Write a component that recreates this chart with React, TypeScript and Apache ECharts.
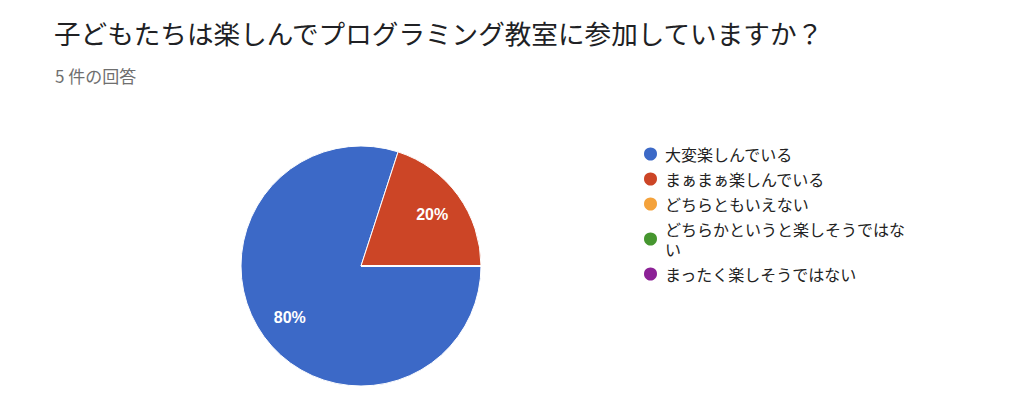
import React, { useEffect, useRef } from 'react'
import * as echarts from 'echarts'

const titleText = '子どもたちは楽しんでプログラミング教室に参加していますか？'
const subtitleText = '5 件の回答'

const answers = [
  '大変楽しんでいる',
  'まぁまぁ楽しんでいる',
  'どちらともいえない',
  'どちらかというと楽しそうではない',
  'まったく楽しそうではない'
]
const counts = [4, 1, 0, 0, 0]
const sliceColors = ['#3c69c7', '#cc4526', '#f4a23b', '#46962f', '#8c2196']

const CJK = '"Noto Sans CJK JP", "Noto Sans", sans-serif'

const App: React.FC = () => {
  const chartRef = useRef<HTMLDivElement>(null)

  useEffect(() => {
    if (!chartRef.current) return
    const chart = echarts.init(chartRef.current, undefined, { renderer: 'svg' })

    const data = answers.map((name, i) => ({ name, value: counts[i] }))

    const option: echarts.EChartsOption = {
      animation: false,
      backgroundColor: '#ffffff',
      color: sliceColors,
      title: [
        {
          text: titleText,
          left: 54,
          top: 19,
          padding: 0,
          textStyle: { fontFamily: CJK, fontSize: 26.6, fontWeight: 'normal', color: '#202124' }
        },
        {
          text: subtitleText,
          left: 55,
          top: 67,
          padding: 0,
          textStyle: { fontFamily: CJK, fontSize: 17, fontWeight: 'normal', color: '#6f6f6f' }
        }
      ],
      legend: {
        orient: 'vertical',
        left: 642,
        top: 144,
        padding: 0,
        itemGap: 5,
        itemWidth: 19,
        itemHeight: 15,
        icon: 'circle',
        selectedMode: false,
        data: answers,
        textStyle: {
          fontFamily: CJK,
          fontSize: 16,
          lineHeight: 20,
          color: '#222222',
          width: 248,
          overflow: 'breakAll'
        }
      },
      series: [
        {
          type: 'pie',
          center: [361, 266],
          radius: [0, 120],
          startAngle: 0,
          clockwise: true,
          silent: true,
          label: { show: false },
          labelLine: { show: false },
          itemStyle: { borderColor: '#ffffff', borderWidth: 1 },
          data
        },
        {
          type: 'pie',
          center: [361, 266],
          radius: [50, 120],
          startAngle: 0,
          clockwise: true,
          silent: true,
          itemStyle: { color: 'transparent' },
          labelLine: { show: false },
          label: {
            show: true,
            position: 'inside',
            color: '#ffffff',
            fontFamily: 'Liberation Sans, Arial, sans-serif',
            fontSize: 16,
            fontWeight: 'bold',
            formatter: (p: any) => (p.value > 0 ? `${Math.round(p.percent)}%` : '')
          },
          data
        }
      ]
    }

    chart.setOption(option)
    return () => {
      chart.dispose()
    }
  }, [])

  return (
    <div
      ref={chartRef}
      style={{ position: 'fixed', left: 0, top: 0, width: 1024, height: 411, background: '#fff' }}
    />
  )
}

export default App
